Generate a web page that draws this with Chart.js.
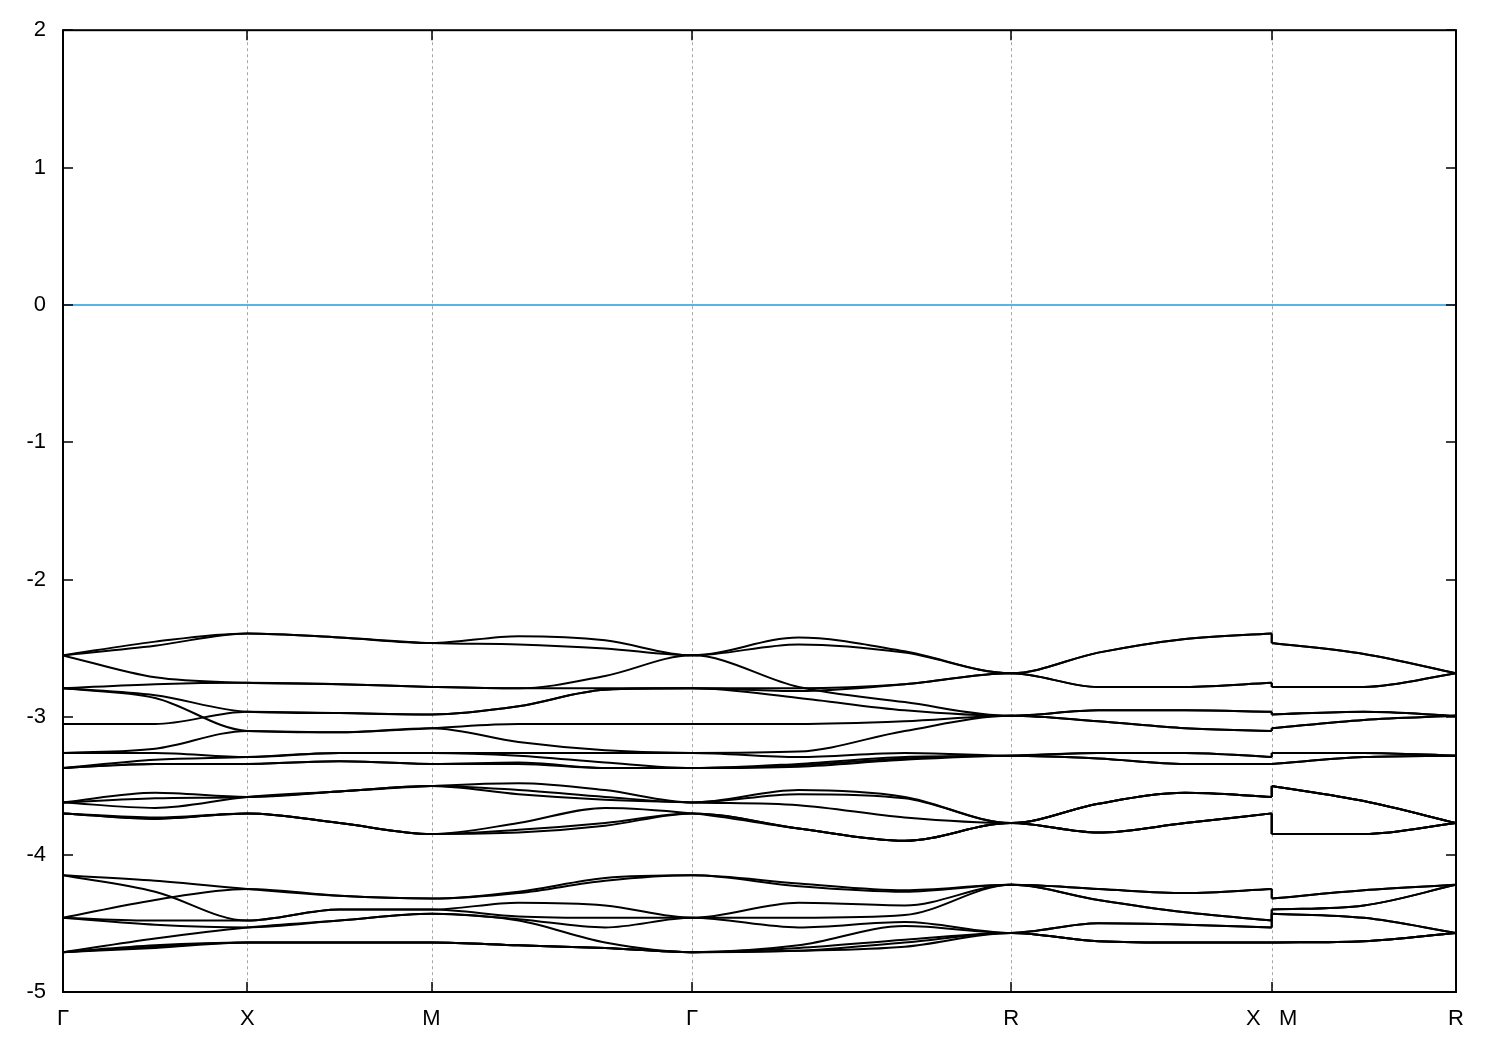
<!DOCTYPE html>
<html lang="en">
<head>
  <meta charset="UTF-8" />
  <title>Band structure</title>
  <script src="https://cdn.jsdelivr.net/npm/chart.js"></script>
  <style>
    html, body { margin: 0; padding: 0; background: #fff; }
  </style>
</head>
<body>
  <canvas id="bands" width="1500" height="1050"></canvas>

  <script>
    // k-path distance of each sample: Γ, ., X, ., M, ., ., Γ, ., ., R, ., ., X | M, ., R
    const kPath = [0, 0.25, 0.5, 0.75, 1.0, 1.236, 1.471, 1.707, 1.996, 2.284, 2.573, 2.809, 3.045, 3.28, 3.28, 3.53, 3.78];
    const kTicks = [0, 0.5, 1.0, 1.707, 2.573, 3.28, 3.78];
    const kLabels = ['Γ', 'X', 'M', 'Γ', 'R', 'X   M', 'R'];
    const fermiLevel = [0, 0];

    // energies (eV) along kPath, one row per band
    const upperBands = [
      [-2.55, -2.45, -2.39, -2.42, -2.46, -2.41, -2.44, -2.55, -2.42, -2.52, -2.68, -2.53, -2.43, -2.39, -2.46, -2.54, -2.68],
      [-2.55, -2.48, -2.39, -2.42, -2.46, -2.47, -2.50, -2.55, -2.47, -2.53, -2.68, -2.53, -2.43, -2.39, -2.46, -2.54, -2.68],
      [-2.55, -2.71, -2.75, -2.76, -2.78, -2.79, -2.70, -2.55, -2.78, -2.89, -2.99, -2.95, -2.95, -2.96, -2.98, -2.96, -2.99],
      [-2.79, -2.76, -2.75, -2.76, -2.78, -2.79, -2.79, -2.79, -2.79, -2.76, -2.68, -2.78, -2.78, -2.75, -2.78, -2.78, -2.68],
      [-2.79, -2.84, -2.96, -2.97, -2.98, -2.92, -2.80, -2.79, -2.81, -2.76, -2.68, -2.78, -2.78, -2.75, -2.78, -2.78, -2.68],
      [-2.79, -2.86, -3.10, -3.11, -3.08, -3.05, -3.05, -3.05, -3.05, -3.03, -2.99, -3.03, -3.08, -3.10, -3.08, -3.02, -2.99],
      [-3.05, -3.05, -2.96, -2.97, -2.98, -2.92, -2.80, -2.79, -2.86, -2.95, -2.99, -2.95, -2.95, -2.96, -2.98, -2.96, -2.99],
      [-3.26, -3.23, -3.10, -3.11, -3.08, -3.18, -3.24, -3.26, -3.25, -3.10, -2.99, -3.03, -3.08, -3.10, -3.08, -3.02, -2.99],
      [-3.26, -3.26, -3.29, -3.26, -3.26, -3.26, -3.26, -3.26, -3.29, -3.26, -3.28, -3.26, -3.26, -3.29, -3.26, -3.26, -3.28],
      [-3.37, -3.31, -3.29, -3.26, -3.26, -3.28, -3.33, -3.37, -3.34, -3.29, -3.28, -3.26, -3.26, -3.29, -3.26, -3.26, -3.28],
      [-3.37, -3.34, -3.34, -3.32, -3.34, -3.33, -3.37, -3.37, -3.35, -3.30, -3.28, -3.30, -3.34, -3.34, -3.34, -3.29, -3.28],
      [-3.37, -3.34, -3.34, -3.32, -3.34, -3.34, -3.37, -3.37, -3.36, -3.31, -3.28, -3.30, -3.34, -3.34, -3.34, -3.29, -3.28]
    ];

    const middleBands = [
      [-3.62, -3.55, -3.58, -3.54, -3.50, -3.48, -3.53, -3.62, -3.53, -3.58, -3.77, -3.63, -3.55, -3.58, -3.50, -3.61, -3.77],
      [-3.62, -3.59, -3.58, -3.54, -3.50, -3.53, -3.58, -3.62, -3.56, -3.59, -3.77, -3.63, -3.55, -3.58, -3.50, -3.61, -3.77],
      [-3.62, -3.66, -3.58, -3.54, -3.50, -3.56, -3.60, -3.62, -3.64, -3.73, -3.77, -3.63, -3.55, -3.58, -3.50, -3.61, -3.77],
      [-3.70, -3.73, -3.70, -3.77, -3.85, -3.77, -3.66, -3.70, -3.81, -3.90, -3.77, -3.84, -3.77, -3.70, -3.85, -3.85, -3.77],
      [-3.70, -3.74, -3.70, -3.77, -3.85, -3.82, -3.77, -3.70, -3.81, -3.90, -3.77, -3.84, -3.77, -3.70, -3.85, -3.85, -3.77],
      [-3.70, -3.74, -3.70, -3.77, -3.85, -3.84, -3.79, -3.70, -3.81, -3.90, -3.77, -3.84, -3.77, -3.70, -3.85, -3.85, -3.77]
    ];

    const lowerBands = [
      [-4.15, -4.19, -4.25, -4.30, -4.32, -4.27, -4.17, -4.15, -4.21, -4.26, -4.22, -4.25, -4.28, -4.25, -4.32, -4.26, -4.22],
      [-4.15, -4.27, -4.48, -4.40, -4.40, -4.35, -4.37, -4.46, -4.35, -4.37, -4.22, -4.33, -4.42, -4.48, -4.40, -4.37, -4.22],
      [-4.46, -4.33, -4.25, -4.30, -4.32, -4.28, -4.19, -4.15, -4.23, -4.27, -4.22, -4.25, -4.28, -4.25, -4.32, -4.26, -4.22],
      [-4.46, -4.48, -4.48, -4.40, -4.40, -4.45, -4.46, -4.46, -4.46, -4.44, -4.22, -4.33, -4.42, -4.48, -4.40, -4.37, -4.22],
      [-4.46, -4.51, -4.53, -4.48, -4.43, -4.47, -4.53, -4.46, -4.53, -4.49, -4.57, -4.50, -4.51, -4.53, -4.43, -4.46, -4.57],
      [-4.71, -4.61, -4.53, -4.48, -4.43, -4.48, -4.64, -4.71, -4.66, -4.52, -4.57, -4.50, -4.51, -4.53, -4.43, -4.46, -4.57],
      [-4.71, -4.66, -4.64, -4.64, -4.64, -4.66, -4.68, -4.71, -4.68, -4.62, -4.57, -4.63, -4.64, -4.64, -4.64, -4.63, -4.57],
      [-4.71, -4.67, -4.64, -4.64, -4.64, -4.66, -4.68, -4.71, -4.70, -4.64, -4.57, -4.63, -4.64, -4.64, -4.64, -4.63, -4.57],
      [-4.71, -4.68, -4.64, -4.64, -4.64, -4.66, -4.68, -4.71, -4.70, -4.67, -4.57, -4.63, -4.64, -4.64, -4.64, -4.63, -4.57]
    ];

    const FONT = { family: "'Liberation Sans', Arial, sans-serif", size: 22 };
    const XM = 13; // X sits at index 13, M at 14 (same k, path jumps)

    function bandLine(points, smooth) {
      return {
        data: points,
        borderColor: '#000',
        borderWidth: 2,
        pointRadius: 0,
        fill: false,
        cubicInterpolationMode: smooth ? 'monotone' : 'default',
        tension: smooth ? 0.4 : 0
      };
    }

    const datasets = [];
    upperBands.concat(middleBands, lowerBands).forEach(band => {
      const pts = band.map((e, i) => ({ x: kPath[i], y: e }));
      datasets.push(bandLine(pts.slice(0, XM + 1), true));
      datasets.push(bandLine(pts.slice(XM, XM + 2), false));
      datasets.push(bandLine(pts.slice(XM + 1), true));
    });
    datasets.push({
      data: [{ x: kTicks[0], y: fermiLevel[0] }, { x: kTicks[kTicks.length - 1], y: fermiLevel[1] }],
      borderColor: '#56b4e9',
      borderWidth: 2,
      pointRadius: 0,
      tension: 0
    });

    // dotted verticals, frame and inward ticks like gnuplot
    const framePlugin = {
      id: 'frame',
      beforeDatasetsDraw(chart) {
        const { ctx, chartArea: a, scales: { x } } = chart;
        ctx.save();
        ctx.strokeStyle = '#a8a8a8';
        ctx.lineWidth = 1;
        ctx.setLineDash([3, 3]);
        kTicks.slice(1, -1).forEach(k => {
          const px = Math.round(x.getPixelForValue(k)) + 0.5;
          ctx.beginPath();
          ctx.moveTo(px, a.top);
          ctx.lineTo(px, a.bottom);
          ctx.stroke();
        });
        ctx.restore();
      },
      afterDatasetsDraw(chart) {
        const { ctx, chartArea: a, scales: { x, y } } = chart;
        ctx.save();
        ctx.strokeStyle = '#000';
        ctx.lineWidth = 2;
        ctx.strokeRect(a.left, a.top, a.right - a.left, a.bottom - a.top);
        ctx.lineWidth = 1.5;
        ctx.beginPath();
        for (let v = -5; v <= 2; v++) {
          const py = Math.round(y.getPixelForValue(v));
          ctx.moveTo(a.left, py); ctx.lineTo(a.left + 10, py);
          ctx.moveTo(a.right, py); ctx.lineTo(a.right - 10, py);
        }
        kTicks.slice(1, -1).forEach(k => {
          const px = Math.round(x.getPixelForValue(k));
          ctx.moveTo(px, a.bottom); ctx.lineTo(px, a.bottom - 10);
          ctx.moveTo(px, a.top); ctx.lineTo(px, a.top + 10);
        });
        ctx.stroke();
        ctx.restore();
      }
    };

    new Chart(document.getElementById('bands'), {
      type: 'line',
      data: { datasets },
      plugins: [framePlugin],
      options: {
        responsive: false,
        animation: false,
        devicePixelRatio: 1,
        layout: { padding: { top: 28, right: 44, left: 0, bottom: 0 } },
        plugins: { legend: { display: false }, tooltip: { enabled: false } },
        scales: {
          x: {
            type: 'linear',
            min: 0,
            max: 3.78,
            afterBuildTicks: s => { s.ticks = kTicks.map(v => ({ value: v })); },
            afterFit: s => { s.height = 58; },
            ticks: {
              callback: (v, i) => kLabels[i],
              font: FONT,
              color: '#000',
              padding: 14,
              maxRotation: 0,
              autoSkip: false
            },
            grid: { display: false, drawTicks: false },
            border: { display: false }
          },
          y: {
            min: -5,
            max: 2,
            afterFit: s => { s.width = 63; },
            ticks: { stepSize: 1, font: FONT, color: '#000', padding: 17 },
            grid: { display: false, drawTicks: false },
            border: { display: false }
          }
        }
      }
    });
  </script>
</body>
</html>
